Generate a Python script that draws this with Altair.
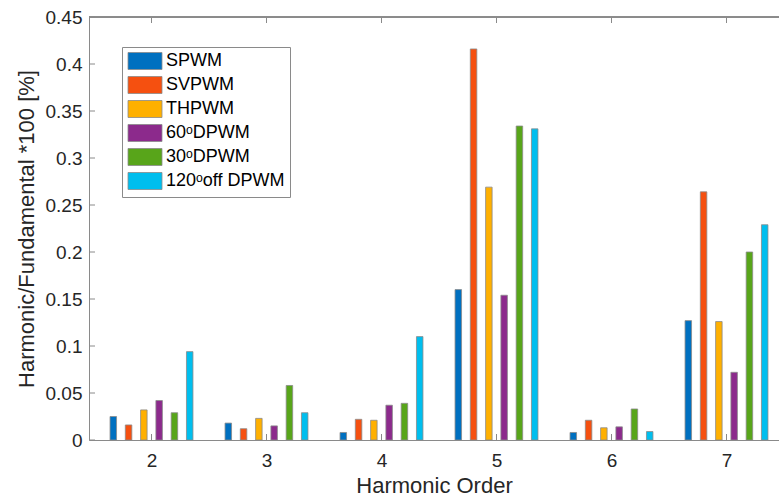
import altair as alt
import pandas as pd

harmonics = [2, 3, 4, 5, 6, 7]
series = ["SPWM", "SVPWM", "THPWM", "60ᵒDPWM", "30ᵒDPWM", "120ᵒoff DPWM"]
colors = ["#0070C0", "#F55010", "#FFB000", "#8C2A8C", "#58A51A", "#00BEEE"]

spwm = [0.025, 0.018, 0.008, 0.160, 0.008, 0.127]
svpwm = [0.016, 0.012, 0.022, 0.416, 0.021, 0.264]
thpwm = [0.032, 0.023, 0.021, 0.269, 0.013, 0.126]
dpwm60 = [0.042, 0.015, 0.037, 0.154, 0.014, 0.072]
dpwm30 = [0.029, 0.058, 0.039, 0.334, 0.033, 0.200]
dpwm120 = [0.094, 0.029, 0.110, 0.331, 0.009, 0.229]

y_ticks = [0, 0.05, 0.1, 0.15, 0.2, 0.25, 0.3, 0.35, 0.4, 0.45]

all_vals = [spwm, svpwm, thpwm, dpwm60, dpwm30, dpwm120]
rows = []
for i, (name, vals) in enumerate(zip(series, all_vals)):
    for h, v in zip(harmonics, vals):
        rows.append({"harmonic": h, "series": name, "idx": i, "value": v})
df = pd.DataFrame(rows)

W, H = 690, 423
GRAY = "#8a8a8a"
TXT = "#262626"
FONT = "Liberation Sans"

xscale = alt.Scale(domain=[1.5, 7.413], nice=False, zero=False)
yscale = alt.Scale(domain=[0, 0.45], nice=False)
xaxis = alt.Axis(values=harmonics, format="d", ticks=False, grid=False,
                 title="Harmonic Order", labelPadding=11, titlePadding=5)
yaxis = alt.Axis(values=y_ticks, format="~g", ticks=False, grid=False,
                 title="Harmonic/Fundamental *100 [%]", labelPadding=7,
                 titlePadding=7)

bars = alt.Chart(df).transform_calculate(
    xpos="datum.harmonic + (datum.idx - 2.5) * 0.1329"
).mark_bar(size=6.5, stroke=GRAY, strokeWidth=0.8, clip=True).encode(
    x=alt.X("xpos:Q", scale=xscale, axis=xaxis),
    y=alt.Y("value:Q", scale=yscale, axis=yaxis),
    color=alt.Color("series:N", sort=series,
                    scale=alt.Scale(domain=series, range=colors),
                    legend=alt.Legend(title=None, orient="none", legendX=33, legendY=30,
                                      symbolType="M-2,-1H2V1H-2Z", symbolSize=289,
                                      symbolOffset=9,
                                      symbolStrokeColor=GRAY, symbolStrokeWidth=0.8,
                                      symbolOpacity=1,
                                      labelFont=FONT, labelFontSize=18, labelColor="#000000",
                                      labelOffset=12, rowPadding=2, padding=5,
                                      strokeColor=GRAY, fillColor="white",
                                      labelLimit=300)),
)

ydf = pd.DataFrame({"xpos": [1.5] * len(y_ticks), "value": y_ticks})
xdf = pd.DataFrame({"xpos": harmonics, "value": [0.0] * len(harmonics)})

top_line = alt.Chart(xdf).mark_rule(color=GRAY, strokeWidth=1).encode(
    x=alt.value(0), x2=alt.value(W), y=alt.value(0)
)
yt = alt.Chart(ydf).mark_rule(color=GRAY, strokeWidth=1).encode(
    y=alt.Y("value:Q", scale=yscale, axis=yaxis), x=alt.value(0), x2=alt.value(6)
)
xt_bottom = alt.Chart(xdf).mark_rule(color=GRAY, strokeWidth=1).encode(
    x=alt.X("xpos:Q", scale=xscale, axis=xaxis), y=alt.value(H), y2=alt.value(H - 6)
)
xt_top = alt.Chart(xdf).mark_rule(color=GRAY, strokeWidth=1).encode(
    x=alt.X("xpos:Q", scale=xscale, axis=xaxis), y=alt.value(0), y2=alt.value(6)
)

chart = alt.layer(bars, top_line, yt, xt_bottom, xt_top).properties(
    width=W, height=H,
    background="white",
    autosize=alt.AutoSizeParams(type="none"),
    padding={"left": 89, "top": 17, "right": 0, "bottom": 58},
).configure_view(stroke=None).configure_axis(
    domainColor=GRAY, domainWidth=1,
    labelFont=FONT, labelFontSize=19, labelColor=TXT,
    titleFont=FONT, titleFontSize=22, titleColor=TXT, titleFontWeight="normal",
)

chart.save("out.html", embed_options={"renderer": "svg", "actions": False})
